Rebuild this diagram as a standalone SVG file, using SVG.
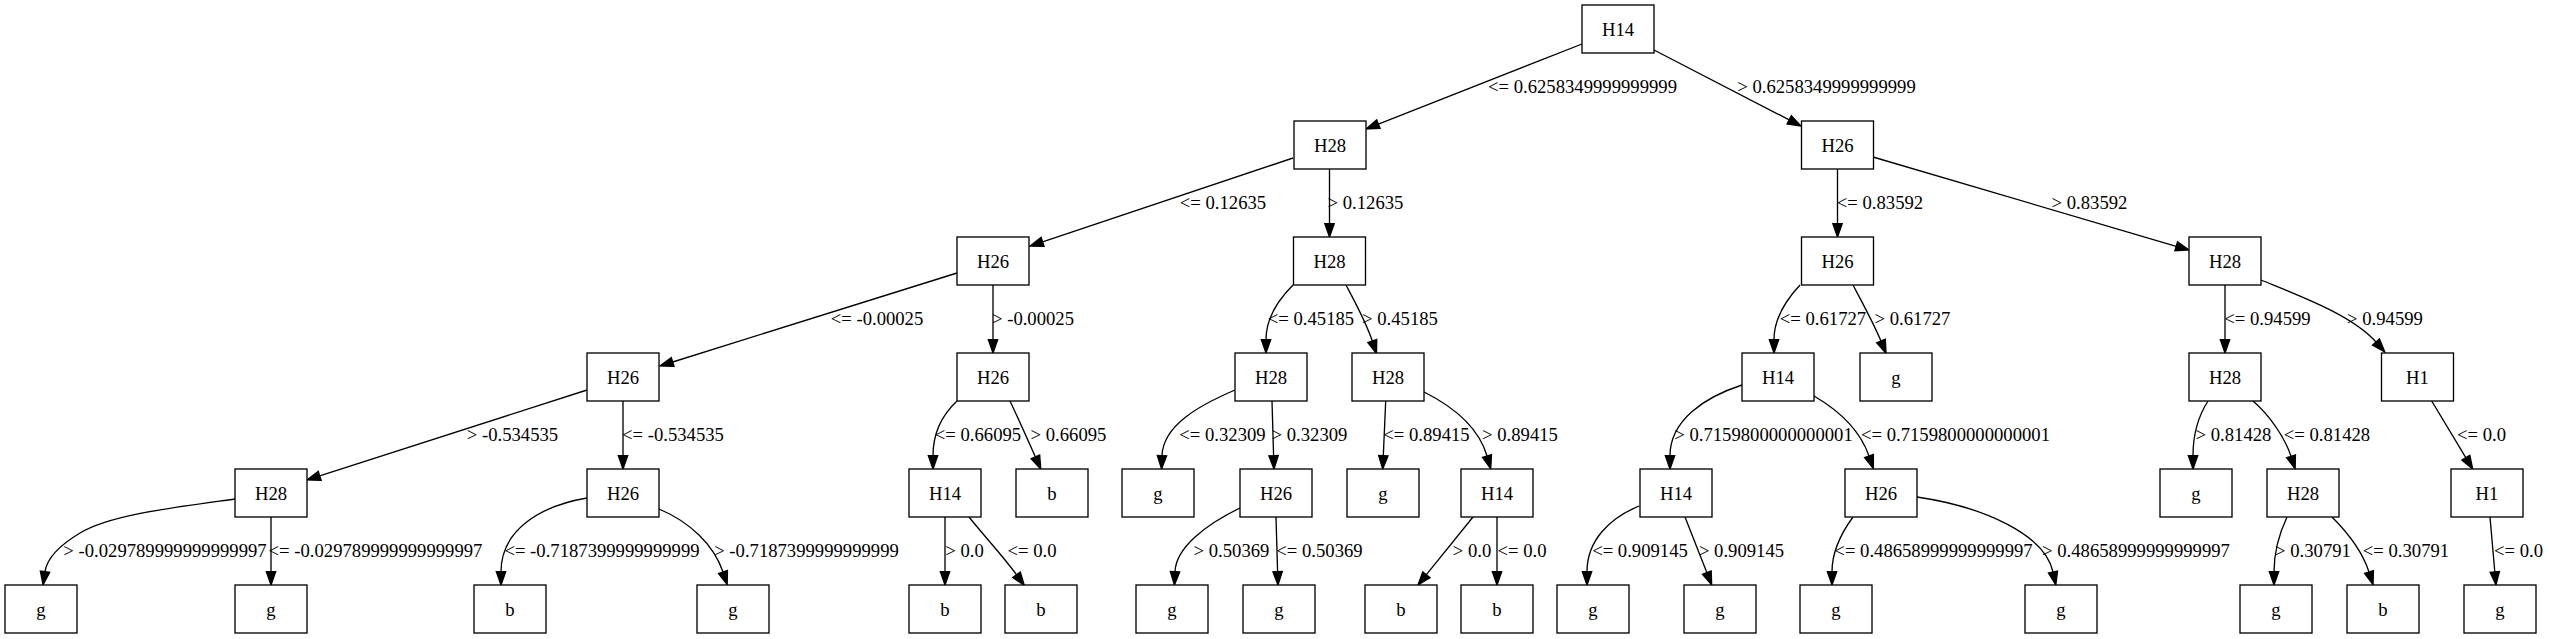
<svg xmlns="http://www.w3.org/2000/svg" width="2549" height="639" viewBox="0 0 2549 639">
<style>
.n rect{fill:#fff;stroke:#000;stroke-width:1.33}
.n text{font-family:"Liberation Serif","Times New Roman",serif;font-size:18.67px;text-anchor:middle;fill:#000}
.e path{fill:none;stroke:#000;stroke-width:1.33;marker-end:url(#ah)}
.l text{font-family:"Liberation Serif","Times New Roman",serif;font-size:18.67px;text-anchor:middle;fill:#000}
</style>
<defs>
<marker id="ah" markerUnits="userSpaceOnUse" markerWidth="16" markerHeight="12" refX="0" refY="5" orient="auto" overflow="visible">
<path d="M0,0.33 L13.3,5 L0,9.67 Z" fill="#000" stroke="#000" stroke-width="1.33"/>
</marker>
</defs>
<rect width="2549" height="639" fill="#fff"/>
<g id="edges" class="e">
<path d="M1582,44 L1378.4,124.1"/>
<path d="M1654,50 L1789.2,119.9"/>
<path d="M1293,158 L1042.6,241.8"/>
<path d="M1329.5,169 L1329.5,223.7"/>
<path d="M1837.5,169 L1837.5,223.7"/>
<path d="M1873,157 L2176.2,246.3"/>
<path d="M957,273 L672.7,362"/>
<path d="M993,285 L993,339.7"/>
<path d="M1293,285 C1278,300 1266,318 1266,339.7"/>
<path d="M1346,285 C1355,302 1366,322 1372.3,341"/>
<path d="M1800,285 C1786,300 1774,318 1774,339.7"/>
<path d="M1853,285 C1862,302 1874,324 1881,341.1"/>
<path d="M2225,285 L2225,339.7"/>
<path d="M2261,280 C2300,296 2352,315 2376,342"/>
<path d="M587,390 L319.7,475.9"/>
<path d="M623,401 L623,455.7"/>
<path d="M957,401 C942,415 933,432 933,455.7"/>
<path d="M1010,401 C1018,418 1027,438 1035.4,456.9"/>
<path d="M1235,390 C1200,405 1163,425 1162,455.7"/>
<path d="M1272,401 L1273.6,455.7"/>
<path d="M1385.7,401 L1383.3,455.7"/>
<path d="M1424,392 C1450,405 1478,425 1487,456"/>
<path d="M1742,385 C1705,397 1670,420 1670,455.7"/>
<path d="M1814,396 C1838,410 1860,430 1869,456"/>
<path d="M2208,401 C2199,415 2193,435 2193,455.7"/>
<path d="M2253,401 C2268,414 2284,435 2291,456.3"/>
<path d="M2431.7,401 L2465.8,457.6"/>
<path d="M235,499 C170,508 110,515 80,533 C60,545 47,558 45,571.7"/>
<path d="M271,517 L271,571.7"/>
<path d="M587,498 C540,506 501,530 501,571.7"/>
<path d="M659,509 C690,522 714,545 723,572"/>
<path d="M945,517 L945,571.7"/>
<path d="M969,517 C985,537 1003,556 1016.5,574.7"/>
<path d="M1240,508 C1205,525 1176,548 1175,571.7"/>
<path d="M1276,517 L1277.6,571.7"/>
<path d="M1473,517 L1426.4,574.7"/>
<path d="M1497,517 L1497,571.7"/>
<path d="M1639,506 C1610,518 1587,540 1587,571.7"/>
<path d="M1685,517 L1706.8,572.6"/>
<path d="M1853,517 C1842,532 1832,550 1832,571.7"/>
<path d="M1917,497 C1985,507 2045,535 2053,572"/>
<path d="M2287,517 C2280,532 2274,550 2274,571.7"/>
<path d="M2332,517 C2348,533 2362,550 2369,572"/>
<path d="M2490,517 L2494.8,571.8"/>
</g>
<g id="labels" class="l">
<text x="1582.5" y="93">&lt;= 0.6258349999999999</text>
<text x="1826.5" y="93">&gt; 0.6258349999999999</text>
<text x="1223" y="209">&lt;= 0.12635</text>
<text x="1365.5" y="209">&gt; 0.12635</text>
<text x="1880" y="209">&lt;= 0.83592</text>
<text x="2089.5" y="209">&gt; 0.83592</text>
<text x="877" y="325">&lt;= -0.00025</text>
<text x="1033" y="325">&gt; -0.00025</text>
<text x="1311" y="325">&lt;= 0.45185</text>
<text x="1400" y="325">&gt; 0.45185</text>
<text x="1823" y="325">&lt;= 0.61727</text>
<text x="1912.5" y="325">&gt; 0.61727</text>
<text x="2267.5" y="325">&lt;= 0.94599</text>
<text x="2385" y="325">&gt; 0.94599</text>
<text x="512.5" y="441">&gt; -0.534535</text>
<text x="673" y="441">&lt;= -0.534535</text>
<text x="978" y="441">&lt;= 0.66095</text>
<text x="1068.5" y="441">&gt; 0.66095</text>
<text x="1222.5" y="441">&lt;= 0.32309</text>
<text x="1309.5" y="441">&gt; 0.32309</text>
<text x="1426.5" y="441">&lt;= 0.89415</text>
<text x="1520" y="441">&gt; 0.89415</text>
<text x="1763.5" y="441">&gt; 0.7159800000000001</text>
<text x="1955.5" y="441">&lt;= 0.7159800000000001</text>
<text x="2233.5" y="441">&gt; 0.81428</text>
<text x="2327" y="441">&lt;= 0.81428</text>
<text x="2481.5" y="441">&lt;= 0.0</text>
<text x="165" y="557">&gt; -0.029789999999999997</text>
<text x="375.5" y="557">&lt;= -0.029789999999999997</text>
<text x="602" y="557">&lt;= -0.7187399999999999</text>
<text x="806.5" y="557">&gt; -0.7187399999999999</text>
<text x="964.5" y="557">&gt; 0.0</text>
<text x="1032" y="557">&lt;= 0.0</text>
<text x="1231.5" y="557">&gt; 0.50369</text>
<text x="1319.5" y="557">&lt;= 0.50369</text>
<text x="1472" y="557">&gt; 0.0</text>
<text x="1522" y="557">&lt;= 0.0</text>
<text x="1640" y="557">&lt;= 0.909145</text>
<text x="1741.5" y="557">&gt; 0.909145</text>
<text x="1933.5" y="557">&lt;= 0.48658999999999997</text>
<text x="2136" y="557">&gt; 0.48658999999999997</text>
<text x="2313" y="557">&gt; 0.30791</text>
<text x="2406" y="557">&lt;= 0.30791</text>
<text x="2518.5" y="557">&lt;= 0.0</text>
</g>
<g id="n0" class="n"><rect x="1582" y="5" width="72" height="48"/><text x="1618" y="35.5">H14</text></g>
<g id="n1" class="n"><rect x="1294" y="121" width="72" height="48"/><text x="1330" y="151.5">H28</text></g>
<g id="n2" class="n"><rect x="1801.5" y="121" width="72" height="48"/><text x="1837.5" y="151.5">H26</text></g>
<g id="n3" class="n"><rect x="957" y="237" width="72" height="48"/><text x="993" y="267.5">H26</text></g>
<g id="n4" class="n"><rect x="1293.5" y="237" width="72" height="48"/><text x="1329.5" y="267.5">H28</text></g>
<g id="n5" class="n"><rect x="1801.5" y="237" width="72" height="48"/><text x="1837.5" y="267.5">H26</text></g>
<g id="n6" class="n"><rect x="2189" y="237" width="72" height="48"/><text x="2225" y="267.5">H28</text></g>
<g id="n7" class="n"><rect x="587" y="353" width="72" height="48"/><text x="623" y="383.5">H26</text></g>
<g id="n8" class="n"><rect x="957" y="353" width="72" height="48"/><text x="993" y="383.5">H26</text></g>
<g id="n9" class="n"><rect x="1235" y="353" width="72" height="48"/><text x="1271" y="383.5">H28</text></g>
<g id="n10" class="n"><rect x="1352" y="353" width="72" height="48"/><text x="1388" y="383.5">H28</text></g>
<g id="n11" class="n"><rect x="1742" y="353" width="72" height="48"/><text x="1778" y="383.5">H14</text></g>
<g id="n12" class="n"><rect x="1860" y="353" width="72" height="48"/><text x="1896" y="383.5">g</text></g>
<g id="n13" class="n"><rect x="2189" y="353" width="72" height="48"/><text x="2225" y="383.5">H28</text></g>
<g id="n14" class="n"><rect x="2381.5" y="353" width="72" height="48"/><text x="2417.5" y="383.5">H1</text></g>
<g id="n15" class="n"><rect x="235" y="469" width="72" height="48"/><text x="271" y="499.5">H28</text></g>
<g id="n16" class="n"><rect x="587" y="469" width="72" height="48"/><text x="623" y="499.5">H26</text></g>
<g id="n17" class="n"><rect x="909" y="469" width="72" height="48"/><text x="945" y="499.5">H14</text></g>
<g id="n18" class="n"><rect x="1016" y="469" width="72" height="48"/><text x="1052" y="499.5">b</text></g>
<g id="n19" class="n"><rect x="1122" y="469" width="72" height="48"/><text x="1158" y="499.5">g</text></g>
<g id="n20" class="n"><rect x="1240" y="469" width="72" height="48"/><text x="1276" y="499.5">H26</text></g>
<g id="n21" class="n"><rect x="1347" y="469" width="72" height="48"/><text x="1383" y="499.5">g</text></g>
<g id="n22" class="n"><rect x="1461" y="469" width="72" height="48"/><text x="1497" y="499.5">H14</text></g>
<g id="n23" class="n"><rect x="1640" y="469" width="72" height="48"/><text x="1676" y="499.5">H14</text></g>
<g id="n24" class="n"><rect x="1845" y="469" width="72" height="48"/><text x="1881" y="499.5">H26</text></g>
<g id="n25" class="n"><rect x="2160" y="469" width="72" height="48"/><text x="2196" y="499.5">g</text></g>
<g id="n26" class="n"><rect x="2267" y="469" width="72" height="48"/><text x="2303" y="499.5">H28</text></g>
<g id="n27" class="n"><rect x="2451" y="469" width="72" height="48"/><text x="2487" y="499.5">H1</text></g>
<g id="n28" class="n"><rect x="5" y="585" width="72" height="48"/><text x="41" y="615.5">g</text></g>
<g id="n29" class="n"><rect x="235" y="585" width="72" height="48"/><text x="271" y="615.5">g</text></g>
<g id="n30" class="n"><rect x="474" y="585" width="72" height="48"/><text x="510" y="615.5">b</text></g>
<g id="n31" class="n"><rect x="697" y="585" width="72" height="48"/><text x="733" y="615.5">g</text></g>
<g id="n32" class="n"><rect x="909" y="585" width="72" height="48"/><text x="945" y="615.5">b</text></g>
<g id="n33" class="n"><rect x="1005" y="585" width="72" height="48"/><text x="1041" y="615.5">b</text></g>
<g id="n34" class="n"><rect x="1136" y="585" width="72" height="48"/><text x="1172" y="615.5">g</text></g>
<g id="n35" class="n"><rect x="1243" y="585" width="72" height="48"/><text x="1279" y="615.5">g</text></g>
<g id="n36" class="n"><rect x="1365" y="585" width="72" height="48"/><text x="1401" y="615.5">b</text></g>
<g id="n37" class="n"><rect x="1461" y="585" width="72" height="48"/><text x="1497" y="615.5">b</text></g>
<g id="n38" class="n"><rect x="1557" y="585" width="72" height="48"/><text x="1593" y="615.5">g</text></g>
<g id="n39" class="n"><rect x="1684" y="585" width="72" height="48"/><text x="1720" y="615.5">g</text></g>
<g id="n40" class="n"><rect x="1800" y="585" width="72" height="48"/><text x="1836" y="615.5">g</text></g>
<g id="n41" class="n"><rect x="2025" y="585" width="72" height="48"/><text x="2061" y="615.5">g</text></g>
<g id="n42" class="n"><rect x="2240" y="585" width="72" height="48"/><text x="2276" y="615.5">g</text></g>
<g id="n43" class="n"><rect x="2347" y="585" width="72" height="48"/><text x="2383" y="615.5">b</text></g>
<g id="n44" class="n"><rect x="2464" y="585" width="72" height="48"/><text x="2500" y="615.5">g</text></g>
</svg>
